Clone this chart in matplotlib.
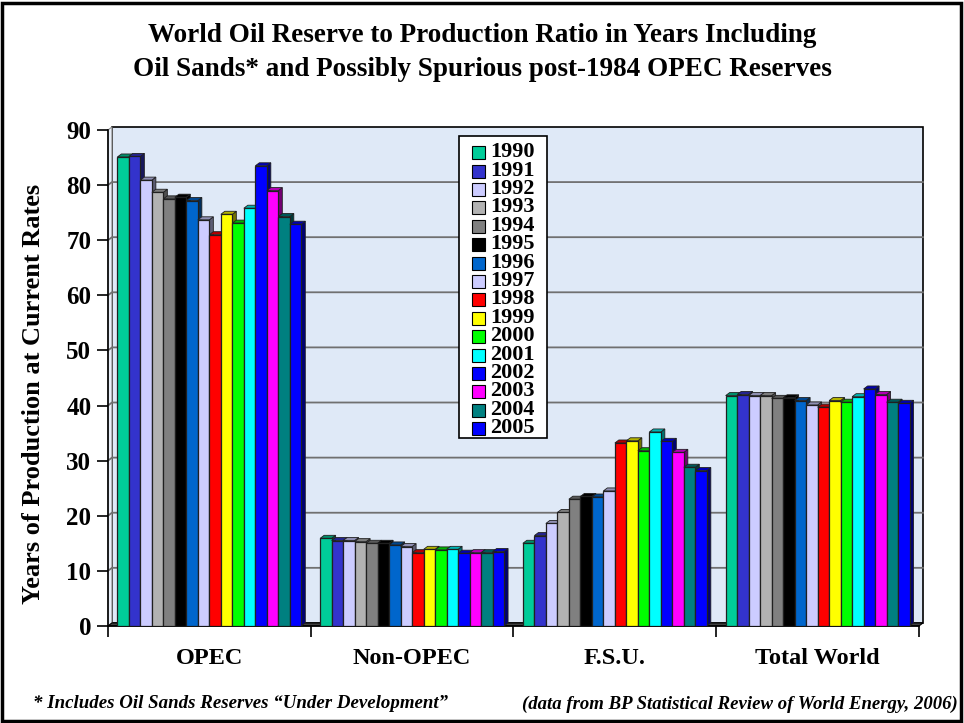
import matplotlib.pyplot as plt
from matplotlib.patches import Rectangle, Polygon

plt.rcParams['font.family'] = ['Liberation Serif', 'DejaVu Serif']
plt.rcParams['font.weight'] = 'bold'

# reserve / production ratio (years), BP Statistical Review 2006
regions = ['OPEC', 'Non-OPEC', 'F.S.U.', 'Total World']
years = ['1990', '1991', '1992', '1993', '1994', '1995', '1996', '1997',
         '1998', '1999', '2000', '2001', '2002', '2003', '2004', '2005']

opec = [85.1, 85.2, 80.9, 78.7, 77.5, 77.8, 77.2, 73.7,
        71.0, 74.7, 73.1, 75.8, 83.5, 79.0, 74.3, 72.9]
non_opec = [15.9, 15.5, 15.5, 15.3, 15.0, 15.0, 14.7, 14.4,
            13.3, 13.9, 13.8, 13.9, 13.2, 13.3, 13.3, 13.5]
fsu = [15.0, 16.4, 18.6, 20.6, 23.0, 23.5, 23.4, 24.5,
       33.2, 33.6, 31.8, 35.2, 33.5, 31.5, 28.8, 28.2]
world = [41.8, 42.0, 41.8, 41.8, 41.3, 41.4, 40.9, 40.1,
         39.7, 40.9, 40.6, 41.6, 43.0, 42.0, 40.6, 40.4]

colors = ['#00CC99', '#3333CC', '#CCCCFF', '#B2B2B2', '#808080', '#000000',
          '#0066CC', '#CCCCFF', '#FF0000', '#FFFF00', '#00FF00', '#00FFFF',
          '#0000FF', '#FF00FF', '#008080', '#0000FF']


def shade(c, f):
    r, g, b = (int(c[i:i + 2], 16) / 255 for i in (1, 3, 5))
    return (r * f, g * f, b * f)


fig = plt.figure(figsize=(9.64, 7.23), dpi=100)
ax = fig.add_axes([0.1120, 0.1342, 0.8413, 0.6860])
ax.set_xlim(0, 4)
ax.set_ylim(0, 90)
for s in ax.spines.values():
    s.set_visible(False)

# depth of the pseudo-3d boxes, in data units (~4px right, ~3px up)
dx, dy = 0.0197, 0.55
ymax = 90

# back wall, side wall and floor
ax.add_patch(Rectangle((dx, dy), 4, ymax, facecolor='#dfe9f7',
                       edgecolor='black', lw=1.2, zorder=0, clip_on=False))
ax.add_patch(Polygon([(0, 0), (dx, dy), (dx, ymax + dy), (0, ymax)],
                     closed=True, facecolor='#e8eef8', edgecolor='#909090',
                     lw=0.8, zorder=0.5, clip_on=False))
ax.add_patch(Polygon([(0, 0), (4, 0), (4 + dx, dy), (dx, dy)], closed=True,
                     facecolor='#404040', edgecolor='black', lw=0.8,
                     zorder=0.5, clip_on=False))
for v in range(10, ymax, 10):
    ax.plot([0, dx, 4 + dx], [v, v + dy, v + dy], color='#707070', lw=1.3,
            zorder=0.8, clip_on=False)
ax.plot([0, 0], [0, ymax], color='black', lw=1.2, zorder=1, clip_on=False)
ax.plot([0, 4], [0, 0], color='black', lw=1.2, zorder=1, clip_on=False)

# bars
values = [opec, non_opec, fsu, world]
n = len(years)
w = 0.0567
x0 = [i + 0.5 - n * w / 2 for i in range(len(regions))]
for j, (yr, col) in enumerate(zip(years, colors)):
    hs = [v[j] for v in values]
    xs = [x + j * w for x in x0]
    for x, h in zip(xs, hs):
        ax.add_patch(Polygon([(x + w, 0), (x + w + dx, dy), (x + w + dx, h + dy),
                              (x + w, h)], closed=True,
                             facecolor=shade(col, 0.45), edgecolor='#202020',
                             lw=0.6, zorder=2 + 2 * j))
        ax.add_patch(Polygon([(x, h), (x + dx, h + dy), (x + w + dx, h + dy),
                              (x + w, h)], closed=True,
                             facecolor=shade(col, 0.7), edgecolor='#202020',
                             lw=0.6, zorder=2 + 2 * j))
    ax.bar(xs, hs, width=w, align='edge', color=col, edgecolor='#202020',
           lw=0.9, zorder=3 + 2 * j)

# axes ticks
ax.set_yticks(range(0, 91, 10))
ax.tick_params(axis='y', length=8, width=1.2, pad=4, labelsize=18)
ax.set_xticks([0.5, 1.5, 2.5, 3.5])
ax.set_xticklabels(regions)
ax.set_xticks(range(5), minor=True)
ax.tick_params(axis='x', which='major', length=0, pad=16, labelsize=17.5)
ax.tick_params(axis='x', which='minor', length=8, width=1.2)
for lab in ax.get_xticklabels() + ax.get_yticklabels():
    lab.set_fontweight('bold')

ax.set_ylabel('Years of Production at Current Rates', fontsize=19,
              fontweight='bold', va='center')
ax.yaxis.set_label_coords(-0.092, 0.468)

# legend box drawn in figure pixels
W, H = 964, 723
fig.patches.append(Rectangle((459 / W, 1 - 438 / H), 88 / W, 302 / H,
                             transform=fig.transFigure, facecolor='white',
                             edgecolor='black', lw=1.2, zorder=50))
for j, (yr, col) in enumerate(zip(years, colors)):
    yc = 152.7 + j * 18.4
    fig.patches.append(Rectangle((472 / W, 1 - (yc + 6.5) / H), 13 / W, 13 / H,
                                 transform=fig.transFigure, facecolor=col,
                                 edgecolor='black', lw=0.8, zorder=51))
    fig.text(490 / W, 1 - (yc - 0.5) / H, yr, fontsize=16, fontweight='bold',
             va='center', ha='left', zorder=52)

# titles and notes
fig.text(0.5, 1 - 35 / H, 'World Oil Reserve to Production Ratio in Years Including',
         ha='center', va='center', fontsize=19.5, fontweight='bold')
fig.text(0.5, 1 - 69 / H, 'Oil Sands* and Possibly Spurious post-1984 OPEC Reserves',
         ha='center', va='center', fontsize=19.5, fontweight='bold')
fig.text(33 / W, 1 - 704 / H,
         '* Includes Oil Sands Reserves \u201cUnder Development\u201d',
         ha='left', va='center', fontsize=13.6, fontweight='bold', style='italic')
fig.text(958 / W, 1 - 704 / H,
         '(data from BP Statistical Review of World Energy, 2006)',
         ha='right', va='center', fontsize=13.5, fontweight='bold', style='italic')

# outer frame
fig.patches.append(Rectangle((2 / W, 2 / H), 959 / W, 718 / H,
                             transform=fig.transFigure, fill=False,
                             edgecolor='black', lw=2.5))

fig.savefig('out.png', dpi=100)
